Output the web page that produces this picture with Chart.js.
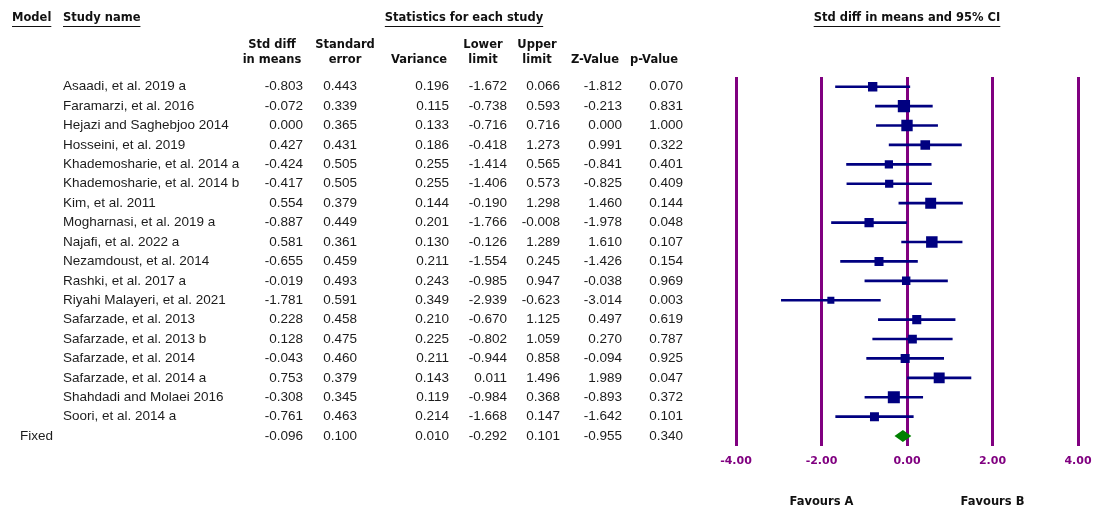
<!DOCTYPE html>
<html>
<head>
<meta charset="utf-8">
<script src="https://cdn.jsdelivr.net/npm/chart.js@4.4.1/dist/chart.umd.min.js"></script>
<style>
  html, body { margin: 0; padding: 0; background: #ffffff; }
  #wrap { width: 1094px; height: 508px; position: relative; }
</style>
</head>
<body>
<div id="wrap"><canvas id="forest" width="1094" height="508"></canvas></div>
<script>
// Study-level results (standardised mean difference, fixed-effect model)
const studies = [
  'Asaadi, et al. 2019 a',
  'Faramarzi, et al. 2016',
  'Hejazi and Saghebjoo 2014',
  'Hosseini, et al. 2019',
  'Khademosharie, et al. 2014 a',
  'Khademosharie, et al. 2014 b',
  'Kim, et al. 2011',
  'Mogharnasi, et al. 2019 a',
  'Najafi, et al. 2022 a',
  'Nezamdoust, et al. 2014',
  'Rashki, et al. 2017 a',
  'Riyahi Malayeri, et al. 2021',
  'Safarzade, et al. 2013',
  'Safarzade, et al. 2013 b',
  'Safarzade, et al. 2014',
  'Safarzade, et al. 2014 a',
  'Shahdadi and Molaei 2016',
  'Soori, et al. 2014 a'
];
const smd      = [-0.803, -0.072, 0.000, 0.427, -0.424, -0.417, 0.554, -0.887, 0.581, -0.655, -0.019, -1.781, 0.228, 0.128, -0.043, 0.753, -0.308, -0.761];
const stdErr   = [0.443, 0.339, 0.365, 0.431, 0.505, 0.505, 0.379, 0.449, 0.361, 0.459, 0.493, 0.591, 0.458, 0.475, 0.460, 0.379, 0.345, 0.463];
const variance = [0.196, 0.115, 0.133, 0.186, 0.255, 0.255, 0.144, 0.201, 0.130, 0.211, 0.243, 0.349, 0.210, 0.225, 0.211, 0.143, 0.119, 0.214];
const lower    = [-1.672, -0.738, -0.716, -0.418, -1.414, -1.406, -0.190, -1.766, -0.126, -1.554, -0.985, -2.939, -0.670, -0.802, -0.944, 0.011, -0.984, -1.668];
const upper    = [0.066, 0.593, 0.716, 1.273, 0.565, 0.573, 1.298, -0.008, 1.289, 0.245, 0.947, -0.623, 1.125, 1.059, 0.858, 1.496, 0.368, 0.147];
const zValue   = [-1.812, -0.213, 0.000, 0.991, -0.841, -0.825, 1.460, -1.978, 1.610, -1.426, -0.038, -3.014, 0.497, 0.270, -0.094, 1.989, -0.893, -1.642];
const pValue   = [0.070, 0.831, 1.000, 0.322, 0.401, 0.409, 0.144, 0.048, 0.107, 0.154, 0.969, 0.003, 0.619, 0.787, 0.925, 0.047, 0.372, 0.101];

// Pooled (fixed) estimate
const fixedLabel    = 'Fixed';
const fixedSmd      = -0.096;
const fixedStdErr   = 0.100;
const fixedVariance = 0.010;
const fixedLower    = -0.292;
const fixedUpper    = 0.101;
const fixedZ        = -0.955;
const fixedP        = 0.340;

const xTicks = [-4, -2, 0, 2, 4];
const sideLabels = ['Favours A', 'Favours B'];

const rowLabels = studies.concat([fixedLabel]);

const PURPLE = '#800080';
const NAVY = '#000080';
const GREEN = '#008000';
const TEXT = '#1c1c1c';
const BODY_FONT = '13.5px "Liberation Sans", Arial, sans-serif';
const HEAD_FONT = 'bold 11.5px "DejaVu Sans", Verdana, sans-serif';

// square side grows with the square root of the inverse-variance weight
const markerRadius = variance.map(v => 4.15 * Math.sqrt(1 / v) / Math.SQRT2);

const fmt = v => v.toFixed(3);

// table columns: right edge of values, centre of header
const columns = [
  { head: ['Std diff', 'in means'], center: 272, right: 303, values: smd, pooled: fixedSmd },
  { head: ['Standard', 'error'], center: 345, right: 357, values: stdErr, pooled: fixedStdErr },
  { head: ['', 'Variance'], center: 419, right: 449, values: variance, pooled: fixedVariance },
  { head: ['Lower', 'limit'], center: 483, right: 507, values: lower, pooled: fixedLower },
  { head: ['Upper', 'limit'], center: 537, right: 560, values: upper, pooled: fixedUpper },
  { head: ['', 'Z-Value'], center: 595, right: 622, values: zValue, pooled: fixedZ },
  { head: ['', 'p-Value'], center: 654, right: 683, values: pValue, pooled: fixedP }
];

function underlined(ctx, text, x, y, align) {
  ctx.textAlign = align;
  ctx.fillText(text, x, y);
  const w = ctx.measureText(text).width;
  const x0 = align === 'center' ? x - w / 2 : x;
  ctx.fillRect(x0, y + 8, w, 1);
}

const tablePlugin = {
  id: 'studyTable',
  afterDraw(chart) {
    const ctx = chart.ctx;
    const yScale = chart.scales.y;
    const xScale = chart.scales.x;
    ctx.save();
    ctx.fillStyle = '#111';
    ctx.textBaseline = 'middle';
    ctx.font = HEAD_FONT;
    underlined(ctx, 'Model', 12, 18, 'left');
    underlined(ctx, 'Study name', 63, 18, 'left');
    underlined(ctx, 'Statistics for each study', 464, 18, 'center');
    underlined(ctx, 'Std diff in means and 95% CI', xScale.getPixelForValue(0), 18, 'center');

    ctx.textAlign = 'center';
    columns.forEach(col => {
      if (col.head[0]) ctx.fillText(col.head[0], col.center, 45);
      ctx.fillText(col.head[1], col.center, 60);
    });

    ctx.font = BODY_FONT;
    ctx.fillStyle = TEXT;
    studies.forEach((name, i) => {
      const y = yScale.getPixelForValue(i);
      ctx.textAlign = 'left';
      ctx.fillText(name, 63, y);
      ctx.textAlign = 'right';
      columns.forEach(col => ctx.fillText(fmt(col.values[i]), col.right, y));
    });
    const yf = yScale.getPixelForValue(studies.length);
    ctx.textAlign = 'left';
    ctx.fillText(fixedLabel, 20, yf);
    ctx.textAlign = 'right';
    columns.forEach(col => ctx.fillText(fmt(col.pooled), col.right, yf));

    // side labels under the axis
    ctx.font = HEAD_FONT;
    ctx.fillStyle = '#111';
    ctx.textAlign = 'center';
    ctx.fillText(sideLabels[0], xScale.getPixelForValue(-2), 502);
    ctx.fillText(sideLabels[1], xScale.getPixelForValue(2), 502);
    ctx.restore();
  }
};

// pooled estimate drawn as a diamond spanning its confidence interval
const diamondPlugin = {
  id: 'pooledDiamond',
  afterDatasetsDraw(chart) {
    const ctx = chart.ctx;
    const x = chart.scales.x;
    const y = chart.scales.y;
    const row = studies.length;
    const yc = y.getPixelForValue(row);
    const half = (y.getPixelForValue(row) - y.getPixelForValue(row - 1)) * 0.31;
    ctx.save();
    ctx.beginPath();
    ctx.moveTo(x.getPixelForValue(fixedLower), yc);
    ctx.lineTo(x.getPixelForValue(fixedSmd), yc - half);
    ctx.lineTo(x.getPixelForValue(fixedUpper), yc);
    ctx.lineTo(x.getPixelForValue(fixedSmd), yc + half);
    ctx.closePath();
    ctx.fillStyle = GREEN;
    ctx.fill();
    ctx.restore();
  }
};

new Chart(document.getElementById('forest'), {
  type: 'bar',
  data: {
    labels: rowLabels,
    datasets: [
      {
        type: 'scatter',
        label: 'Std diff in means',
        data: smd.map((v, i) => ({ x: v, y: studies[i] })),
        pointStyle: 'rect',
        pointRadius: markerRadius,
        pointHoverRadius: markerRadius,
        backgroundColor: NAVY,
        borderColor: NAVY,
        borderWidth: 0,
        showLine: false,
        order: 0
      },
      {
        type: 'bar',
        label: '95% CI',
        data: lower.map((lo, i) => [lo, upper[i]]).concat([null]),
        backgroundColor: NAVY,
        borderWidth: 0,
        barThickness: 2,
        order: 1
      }
    ]
  },
  options: {
    indexAxis: 'y',
    responsive: false,
    animation: false,
    events: [],
    layout: { padding: { left: 736, right: 16, top: 77, bottom: 31 } },
    plugins: { legend: { display: false }, tooltip: { enabled: false } },
    scales: {
      x: {
        type: 'linear',
        min: -4,
        max: 4,
        afterBuildTicks(scale) { scale.ticks = xTicks.map(v => ({ value: v })); },
        // end labels may hang past the plot edges
        afterFit(scale) { scale.paddingLeft = 0; scale.paddingRight = 0; },
        grid: { color: PURPLE, lineWidth: 3, drawTicks: false },
        border: { display: false },
        ticks: {
          color: PURPLE,
          padding: 9,
          font: { family: '"DejaVu Sans", Verdana, sans-serif', size: 11, weight: 'bold' },
          callback: v => Number(v).toFixed(2)
        }
      },
      y: {
        type: 'category',
        labels: rowLabels,
        offset: true,
        display: false,
        grid: { display: false }
      }
    }
  },
  plugins: [tablePlugin, diamondPlugin]
});
</script>
</body>
</html>
